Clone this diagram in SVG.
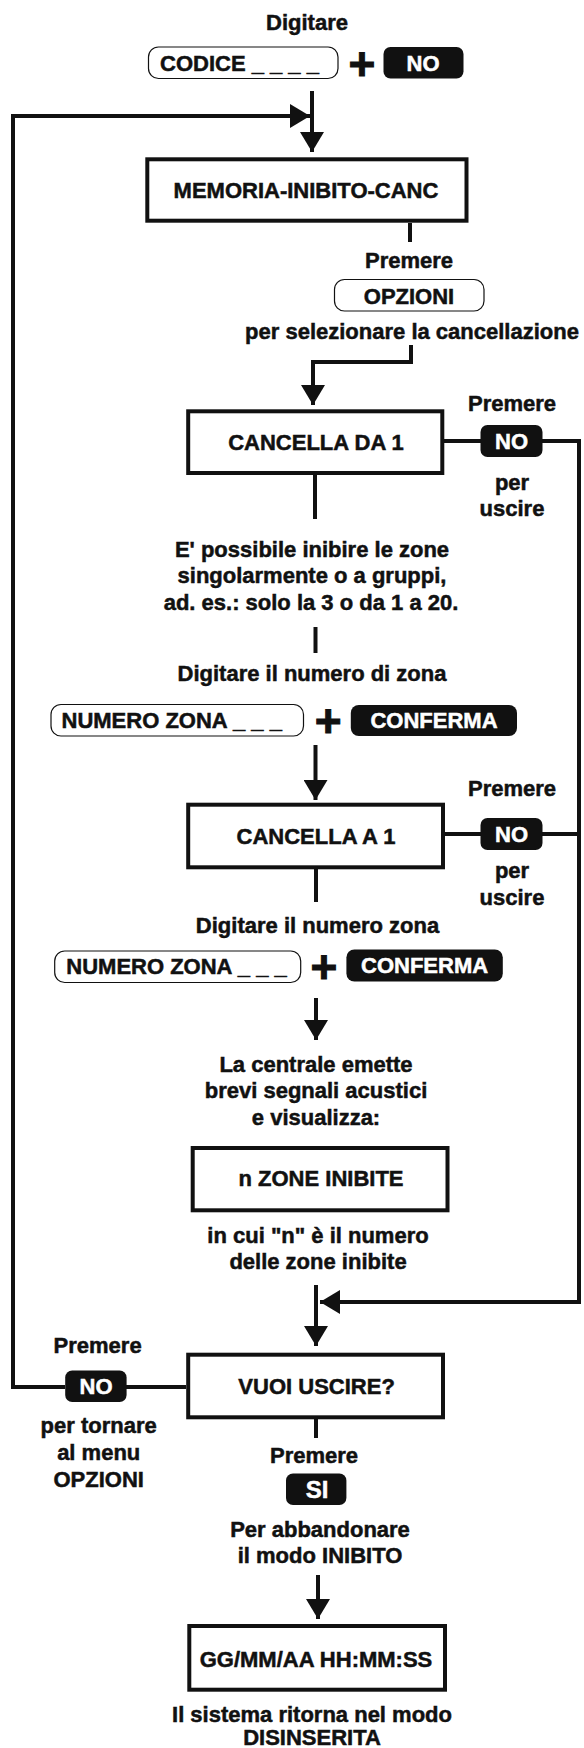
<svg xmlns="http://www.w3.org/2000/svg" width="584" height="1748" viewBox="0 0 584 1748">
<style>
text{font-family:"Liberation Sans",Arial,Helvetica,sans-serif;font-weight:bold;font-size:22px;fill:#111;stroke:#111;stroke-width:0.5;text-anchor:middle}
.box{fill:#fff;stroke:#111;stroke-width:4}
.key{fill:#fff;stroke:#111;stroke-width:1.2}
.bkey{fill:#111;stroke:none}
text.wt{fill:#fff;stroke:#fff}
.st{text-anchor:start}
text.plus{font-size:46px;stroke-width:1}
.ln{fill:none;stroke:#111;stroke-width:4}
</style>
<defs>
<marker id="ah" viewBox="0 0 20 24" refX="20" refY="12" markerWidth="20" markerHeight="24" markerUnits="userSpaceOnUse" orient="auto">
<path d="M0,0 L20,12 L0,24 Z" fill="#111"/>
</marker>
</defs>

<g id="connectors">
<path class="ln" d="M312,91 V152" marker-end="url(#ah)"/>
<path class="ln" d="M65,1387 H13 V116 H310" marker-end="url(#ah)"/>
<path class="ln" d="M410,223 V242"/>
<path class="ln" d="M411,345 V362 H313 V405" marker-end="url(#ah)"/>
<path class="ln" d="M444,441 H481"/>
<path class="ln" d="M542,441 H579 V1302 H320" marker-end="url(#ah)"/>
<path class="ln" d="M315,475 V519"/>
<path class="ln" d="M315.5,627 V653"/>
<path class="ln" d="M315.5,745 V800" marker-end="url(#ah)"/>
<path class="ln" d="M445,834 H481"/>
<path class="ln" d="M542,834 H579"/>
<path class="ln" d="M316,869 V902"/>
<path class="ln" d="M316,998 V1040" marker-end="url(#ah)"/>
<path class="ln" d="M316,1285 V1346" marker-end="url(#ah)"/>
<path class="ln" d="M186,1387 H126"/>
<path class="ln" d="M316,1419 V1438"/>
<path class="ln" d="M318,1575 V1619" marker-end="url(#ah)"/>
</g>

<g id="start">
<text x="307" y="30">Digitare</text>
<rect class="key" x="148.5" y="47" width="189.5" height="31.5" rx="10"/>
<text class="st" x="160" y="71">CODICE _ _ _ _</text>
<text class="plus" x="362" y="80">+</text>
<rect class="bkey" x="383.5" y="47" width="80" height="31.5" rx="7"/>
<text class="wt" x="423" y="71">NO</text>
</g>

<g id="memoria">
<rect class="box" x="147.3" y="159.3" width="319.2" height="61.4"/>
<text x="306" y="198">MEMORIA-INIBITO-CANC</text>
</g>

<g id="opzioni">
<text x="409" y="268">Premere</text>
<rect class="key" x="334.5" y="279.5" width="149.5" height="31.5" rx="10"/>
<text x="409" y="303.5">OPZIONI</text>
<text x="412" y="339">per selezionare la cancellazione</text>
</g>

<g id="cancella-da">
<rect class="box" x="188.2" y="411.3" width="254.1" height="61.7"/>
<text x="316" y="450">CANCELLA DA 1</text>
</g>

<g id="esci-1">
<text x="512" y="411">Premere</text>
<rect class="bkey" x="480.5" y="425" width="62" height="32" rx="7"/>
<text class="wt" x="511.5" y="449">NO</text>
<text x="512" y="490">per</text>
<text x="512" y="516">uscire</text>
</g>

<g id="nota-zone">
<text x="312" y="557">E' possibile inibire le zone</text>
<text x="312" y="583">singolarmente o a gruppi,</text>
<text x="311" y="610">ad. es.: solo la 3 o da 1 a 20.</text>
</g>

<g id="zona-da">
<text x="312" y="681">Digitare il numero di zona</text>
<rect class="key" x="51" y="704.5" width="252.5" height="31.5" rx="10"/>
<text class="st" x="61.5" y="728">NUMERO ZONA _ _ _</text>
<text class="plus" x="328.3" y="737">+</text>
<rect class="bkey" x="350.8" y="705" width="166.2" height="31" rx="8"/>
<text class="wt" x="434" y="728">CONFERMA</text>
</g>

<g id="cancella-a">
<rect class="box" x="188.2" y="804.7" width="254.8" height="62.6"/>
<text x="316" y="844">CANCELLA A 1</text>
</g>

<g id="esci-2">
<text x="512" y="796">Premere</text>
<rect class="bkey" x="480.5" y="818" width="62" height="32" rx="7"/>
<text class="wt" x="511.5" y="842">NO</text>
<text x="512" y="878">per</text>
<text x="512" y="905">uscire</text>
</g>

<g id="zona-a">
<text x="317.5" y="933">Digitare il numero zona</text>
<rect class="key" x="54.7" y="951" width="246" height="31.5" rx="10"/>
<text class="st" x="66.3" y="974">NUMERO ZONA _ _ _</text>
<text class="plus" x="324" y="983">+</text>
<rect class="bkey" x="346.4" y="949.5" width="156.4" height="32" rx="8"/>
<text class="wt" x="424.6" y="973">CONFERMA</text>
</g>

<g id="conferma-msg">
<text x="316" y="1072">La centrale emette</text>
<text x="316" y="1098">brevi segnali acustici</text>
<text x="316" y="1125">e visualizza:</text>
</g>

<g id="zone-inibite">
<rect class="box" x="192.7" y="1148" width="254.8" height="62.3"/>
<text x="321" y="1186">n ZONE INIBITE</text>
<text x="318" y="1243">in cui "n" è il numero</text>
<text x="318" y="1269">delle zone inibite</text>
</g>

<g id="vuoi-uscire">
<rect class="box" x="188.2" y="1354.7" width="254.8" height="62.6"/>
<text x="316.6" y="1394">VUOI USCIRE?</text>
</g>

<g id="torna-opzioni">
<text x="97.6" y="1353">Premere</text>
<rect class="bkey" x="65.2" y="1370.5" width="61.4" height="31.5" rx="7"/>
<text class="wt" x="96" y="1394">NO</text>
<text x="98.7" y="1433">per tornare</text>
<text x="98.7" y="1460">al menu</text>
<text x="98.7" y="1487">OPZIONI</text>
</g>

<g id="abbandona">
<text x="314" y="1463">Premere</text>
<rect class="bkey" x="286" y="1473.5" width="60.4" height="31.5" rx="7"/>
<text class="wt" x="317" y="1498" style="font-size:24px">SI</text>
<text x="320" y="1537">Per abbandonare</text>
<text x="320" y="1563">il modo INIBITO</text>
</g>

<g id="disinserita">
<rect class="box" x="189.3" y="1626" width="255.7" height="63.7"/>
<text x="316" y="1666.5">GG/MM/AA HH:MM:SS</text>
<text x="312" y="1721.5">Il sistema ritorna nel modo</text>
<text x="312" y="1745">DISINSERITA</text>
</g>
</svg>
